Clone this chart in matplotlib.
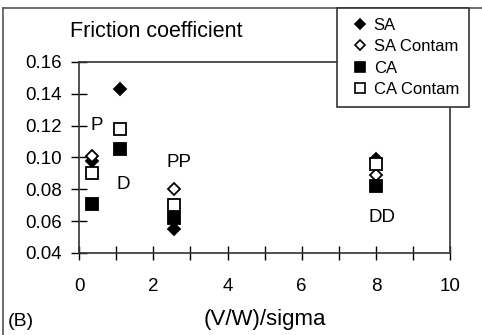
import matplotlib
matplotlib.use("Agg")
import matplotlib.pyplot as plt
from matplotlib.lines import Line2D
from matplotlib.ticker import MultipleLocator, FormatStrFormatter

plt.rcParams["font.family"] = ["Liberation Sans", "DejaVu Sans"]

# values
x_vals = [0.35, 1.1, 2.55, 8.0]
sa = [0.098, 0.143, 0.055, 0.099]
sa_contam = [0.101, None, 0.080, 0.089]
ca = [0.071, 0.105, 0.062, 0.082]
ca_contam = [0.090, 0.118, 0.070, 0.096]

annot_text = ["P", "D", "PP", "DD"]
annot_x = [0.48, 1.2, 2.7, 8.15]
annot_y = [0.120, 0.083, 0.097, 0.062]

series = [
    ("SA", sa, "D", "black"),
    ("SA Contam", sa_contam, "D", "white"),
    ("CA", ca, "s", "black"),
    ("CA Contam", ca_contam, "s", "white"),
]

fig = plt.figure(figsize=(4.82, 3.35), dpi=100)
ax = fig.add_axes([0.164, 0.245, 0.770, 0.570])

for label, vals, marker, face in series:
    xs = [x for x, v in zip(x_vals, vals) if v is not None]
    ys = [v for v in vals if v is not None]
    ms = 6.3 if marker == "D" else 9
    ax.plot(xs, ys, linestyle="none", marker=marker, markersize=ms,
            markerfacecolor=face, markeredgecolor="black", markeredgewidth=1.3,
            label=label, clip_on=False)

for t, x, y in zip(annot_text, annot_x, annot_y):
    ax.text(x, y, t, fontsize=13.5, ha="center", va="center")

ax.set_xlim(0, 10)
ax.set_ylim(0.04, 0.16)
ax.xaxis.set_major_locator(MultipleLocator(2))
ax.xaxis.set_minor_locator(MultipleLocator(1))
ax.yaxis.set_major_locator(MultipleLocator(0.02))
ax.yaxis.set_major_formatter(FormatStrFormatter("%.2f"))
ax.tick_params(axis="x", which="both", direction="inout", length=10, width=1,
               pad=13, labelsize=13.5, top=False)
ax.tick_params(axis="y", which="both", direction="inout", length=11, width=1,
               pad=7, labelsize=13.5, right=False)
for s in ax.spines.values():
    s.set_linewidth(1.2)
    s.set_color("#333333")

ax.text(0.209, 1.16, "Friction coefficient", transform=ax.transAxes,
        fontsize=15.5, ha="center", va="center")
ax.set_xlabel("(V/W)/sigma", fontsize=16, labelpad=10)
fig.text(8 / 482, 1 - 321 / 335, "(B)", fontsize=14, ha="left", va="center")

handles = []
for label, vals, marker, face in series:
    ms = 5 if marker == "D" else 7.5
    handles.append(Line2D([0], [0], linestyle="none", marker=marker, markersize=ms,
                          markerfacecolor=face, markeredgecolor="black",
                          markeredgewidth=1.2, label=label))
leg = fig.legend(handles=handles, loc="upper left",
                 bbox_to_anchor=(337 / 482, 1 - 8 / 335), fontsize=12,
                 frameon=True, fancybox=False, framealpha=1, edgecolor="#333333",
                 borderaxespad=0, handlelength=1.5, handletextpad=0.1,
                 labelspacing=0.38, borderpad=0.6)
leg.get_frame().set_linewidth(1.2)

# partial frame of the cropped panel
fig.add_artist(Line2D([3 / 482, 3 / 482], [0, 1 - 8 / 335], transform=fig.transFigure,
                      color="#555555", linewidth=1.2))
fig.add_artist(Line2D([3 / 482, 1], [1 - 8 / 335, 1 - 8 / 335], transform=fig.transFigure,
                      color="#555555", linewidth=1.2, zorder=0))

fig.savefig("out.png", dpi=100)
